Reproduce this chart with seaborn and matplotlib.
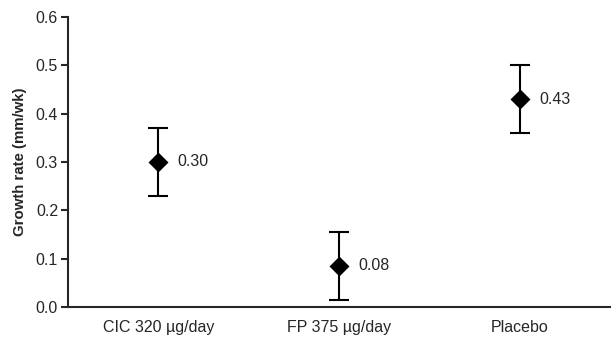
import pandas as pd
import matplotlib
matplotlib.use("Agg")
import matplotlib.pyplot as plt
import seaborn as sns

groups = ["CIC 320 \u00b5g/day", "FP 375 \u00b5g/day", "Placebo"]
growth = [0.30, 0.085, 0.43]
err = [0.07, 0.07, 0.07]
value_labels = ["0.30", "0.08", "0.43"]

df = pd.DataFrame({"group": groups, "growth": growth})

sns.set_style("ticks")
plt.rcParams["font.family"] = ["Liberation Sans", "DejaVu Sans"]

fig = plt.figure(figsize=(6.11, 3.37), dpi=100)
ax = fig.add_axes([0.111, 0.089, 0.888, 0.861])

ax.errorbar(range(len(groups)), growth, yerr=err, fmt="none", ecolor="black",
            elinewidth=1.5, capsize=7, capthick=1.5, zorder=2)
sns.pointplot(data=df, x="group", y="growth", errorbar=None, markers="D",
              linestyles="none", color="black", markersize=8, ax=ax, zorder=3)

for i, (v, lab) in enumerate(zip(growth, value_labels)):
    ax.annotate(lab, (i, v), xytext=(14, 0), textcoords="offset points",
                va="center", ha="left", fontsize=11.5)

ax.set_ylim(0, 0.6)
ax.set_xlim(-0.5, 2.5)
ax.set_yticks([0.0, 0.1, 0.2, 0.3, 0.4, 0.5, 0.6])
ax.set_yticklabels(["0.0", "0.1", "0.2", "0.3", "0.4", "0.5", "0.6"])
ax.set_xlabel("")
ax.set_ylabel("Growth rate (mm/wk)", fontsize=10.8, fontweight="bold", labelpad=6)
ax.tick_params(axis="y", labelsize=11.5, width=1.5, length=5, pad=2)
ax.tick_params(axis="x", labelsize=11.5, length=0, pad=9)
for s in ["left", "bottom"]:
    ax.spines[s].set_linewidth(1.5)
sns.despine(ax=ax)

fig.savefig("out.png", dpi=100)
